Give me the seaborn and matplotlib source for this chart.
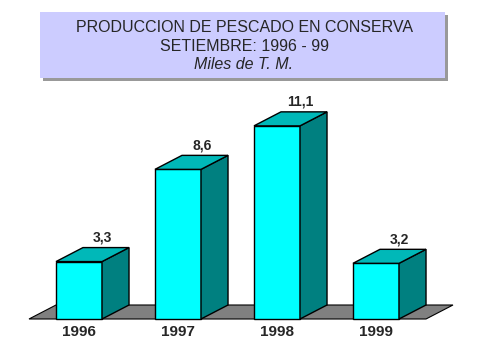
import matplotlib
matplotlib.use('Agg')
import matplotlib.pyplot as plt
from matplotlib.patches import Polygon, Rectangle
import seaborn as sns
import pandas as pd

# data
years = ['1996', '1997', '1998', '1999']
values = [3.3, 8.6, 11.1, 3.2]
value_labels = ['3,3', '8,6', '11,1', '3,2']
title_lines = ['PRODUCCION DE PESCADO EN CONSERVA', 'SETIEMBRE: 1996 - 99']
subtitle = 'Miles de T. M.'

df = pd.DataFrame({'year': years, 'value': values})

sns.set_style('white')
plt.rcParams['font.family'] = ['Liberation Sans', 'DejaVu Sans']

W, H = 479, 359
fig = plt.figure(figsize=(W / 100, H / 100), dpi=100)
ax = fig.add_axes([0, 0, 1, 1])

sns.barplot(data=df, x='year', y='value', color='#00FFFF', saturation=1,
            edgecolor='black', linewidth=1, width=0.465, ax=ax, zorder=2)

# pixel mapping: category i centre at 79 + 99*i px, value 0 at 40 px from bottom, 17.4 px per unit
px_x, px_y = 99, 17.4
ax.set_xlim(-79 / px_x, (W - 79) / px_x)
ax.set_ylim(-40 / px_y, (H - 40) / px_y)
ax.axis('off')

dx = 27 / px_x
dy = 14 / px_y

# floor
x0f, x1f = -0.505, 3.505
ax.add_patch(Polygon([(x0f, 0), (x1f, 0), (x1f + dx, dy), (x0f + dx, dy)],
                     closed=True, facecolor='#808080', edgecolor='black',
                     linewidth=0.8, zorder=1))

# 3d sides and tops
for bar, lab in zip(ax.patches[:len(years)], value_labels):
    x0 = bar.get_x()
    x1 = x0 + bar.get_width()
    h = bar.get_height()
    ax.add_patch(Polygon([(x1, 0), (x1 + dx, dy), (x1 + dx, h + dy), (x1, h)],
                         closed=True, facecolor='#008080', edgecolor='black',
                         linewidth=1, zorder=2))
    ax.add_patch(Polygon([(x0, h), (x0 + dx, h + dy), (x1 + dx, h + dy), (x1, h)],
                         closed=True, facecolor='#00B8B8', edgecolor='black',
                         linewidth=1, zorder=2))
    ax.text((x0 + x1) / 2 + 0.24, h + dy + 10 / px_y, lab, ha='center', va='center',
            fontsize=10, fontweight='bold')

for i, y in enumerate(years):
    ax.text(i, -13 / px_y, y, ha='center', va='center', fontsize=11, fontweight='bold')

# title box with shadow
bx0, by0, bx1, by1 = 40, 12, 445, 78
fig.add_artist(Rectangle(((bx0 + 3) / W, 1 - (by1 + 3) / H), (bx1 - bx0) / W, (by1 - by0) / H,
                         transform=fig.transFigure, facecolor='#999999', edgecolor='none', zorder=3))
fig.add_artist(Rectangle((bx0 / W, 1 - by1 / H), (bx1 - bx0) / W, (by1 - by0) / H,
                         transform=fig.transFigure, facecolor='#CCCCFF', edgecolor='none', zorder=4))
fig.text(244 / W, 1 - 28 / H, title_lines[0], ha='center', va='center', fontsize=11.5, zorder=5)
fig.text(244 / W, 1 - 46.5 / H, title_lines[1], ha='center', va='center', fontsize=11.5, zorder=5)
fig.text(244 / W, 1 - 64.5 / H, subtitle, ha='center', va='center', fontsize=11.5,
         style='italic', zorder=5)

fig.savefig('out.png', dpi=100)
